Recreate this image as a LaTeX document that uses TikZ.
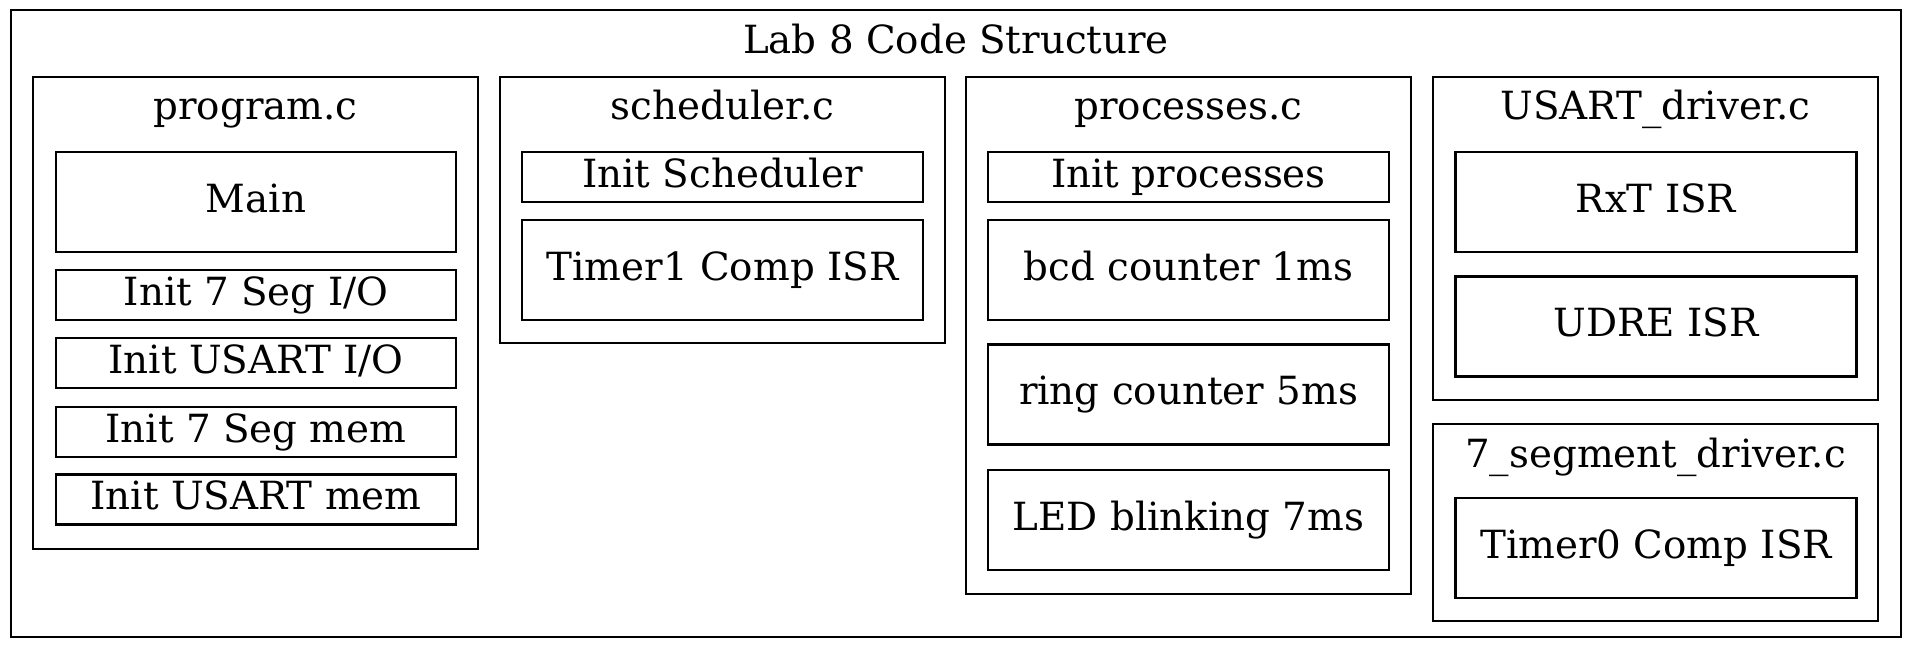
\documentclass[tikz,border=0pt]{standalone}
\usepackage{fontspec}
\setmainfont{DejaVu Serif}
\usepackage{tikz}
\newcommand{\gvfont}{\fontsize{38.8}{46}\selectfont}
\tikzset{
  clusterbox/.style={rectangle, draw=black, line width=2.2pt, inner sep=0pt,
                     minimum width=445pt},
  clustertitle/.style={anchor=base, inner sep=0pt, font=\gvfont},
  funcbox/.style={rectangle, draw=black, line width=2.2pt, inner sep=0pt,
                  minimum width=401pt, minimum height=100pt,
                  text height=22pt, text depth=2pt, font=\gvfont},
}

\begin{document}
\begin{tikzpicture}[
    x=1pt,
    y=-1pt,
    shortbox/.style={funcbox, minimum height=50pt},
  ]
    \useasboundingbox (0,0) rectangle (1914,650);

    % Outer cluster
    \node[clusterbox, minimum width=1890pt, minimum height=627pt] (lab) at (956,323.5) {};
    \node[clustertitle] (labtitle) at (956,54) {Lab 8 Code Structure};

    % File clusters
    \node[clusterbox, minimum height=472pt] (program)   at (255.5,313)   {};
    \node[clusterbox, minimum height=266pt] (scheduler) at (722.5,210)   {};
    \node[clusterbox, minimum height=517pt] (processes) at (1188.5,335.5) {};
    \node[clusterbox, minimum height=323pt] (usartdrv)  at (1655.5,238.5) {};
    \node[clusterbox, minimum height=197pt] (segdrv)    at (1655.5,522.5) {};

    \node[clustertitle] (programtitle)   at (255.5,120)  {program.c};
    \node[clustertitle] (schedulertitle) at (722.5,120)  {scheduler.c};
    \node[clustertitle] (processestitle) at (1188.5,120) {processes.c};
    \node[clustertitle] (usarttitle)     at (1655.5,120) {USART\_driver.c};
    \node[clustertitle] (segtitle)       at (1655.5,467) {7\_segment\_driver.c};

    % program.c
    \node[funcbox, minimum width=400pt]  (main)     at (256,202) {Main};
    \node[shortbox, minimum width=400pt] (segio)    at (256,295) {Init 7 Seg I/O};
    \node[shortbox, minimum width=400pt] (usartio)  at (256,363) {Init USART I/O};
    \node[shortbox, minimum width=400pt] (segmem)   at (256,432) {Init 7 Seg mem};
    \node[shortbox, minimum width=400pt] (usartmem) at (256,499.5) {Init USART mem};

    % scheduler.c
    \node[shortbox] (initsched) at (722.5,177) {Init Scheduler};
    \node[funcbox]  (timerone)  at (722.5,270) {Timer1 Comp ISR};

    % processes.c
    \node[shortbox] (initproc) at (1188.5,177)   {Init processes};
    \node[funcbox]  (bcd)      at (1188.5,270)   {bcd counter 1ms};
    \node[funcbox]  (ring)     at (1188.5,394.5) {ring counter 5ms};
    \node[funcbox]  (led)      at (1188.5,520)   {LED blinking 7ms};

    % USART_driver.c and 7_segment_driver.c
    \node[funcbox] (rxt)       at (1656,202)   {RxT ISR};
    \node[funcbox] (udre)      at (1656,326.5) {UDRE ISR};
    \node[funcbox] (timerzero) at (1656,548)   {Timer0 Comp ISR};

  \end{tikzpicture}
\end{document}
